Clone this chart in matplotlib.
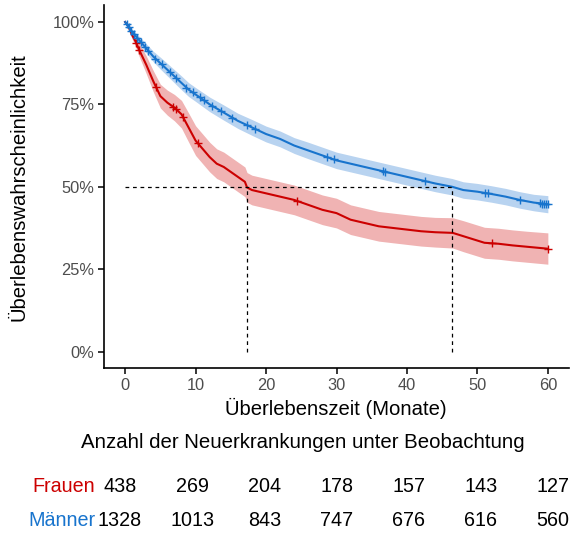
import matplotlib
matplotlib.use("Agg")
import matplotlib.pyplot as plt
from matplotlib.ticker import FuncFormatter

plt.rcParams['font.family'] = ['Liberation Sans', 'DejaVu Sans']

# ---------------- data ----------------
groups = ["Frauen", "Männer"]
colors = ["#CC0000", "#1874CD"]
band_colors = ["#F0B3B3", "#B8D3F0"]

frauen_t = [0, 0.5, 1, 1.5, 2, 3, 4, 5, 6, 7, 8, 9, 10, 11, 12, 13, 14, 15, 16, 17,
            17.3, 18, 20, 22, 24, 26, 28, 30, 32, 34, 36, 38, 40, 42, 44, 46.5, 48,
            49.5, 51, 53, 55, 57, 60]
frauen_s = [1.00, 0.985, 0.96, 0.94, 0.915, 0.87, 0.82, 0.775, 0.755, 0.74, 0.72,
            0.68, 0.64, 0.615, 0.59, 0.57, 0.56, 0.545, 0.53, 0.515, 0.498, 0.49,
            0.48, 0.47, 0.46, 0.445, 0.43, 0.42, 0.40, 0.39, 0.38, 0.375, 0.37,
            0.365, 0.362, 0.36, 0.35, 0.34, 0.33, 0.327, 0.322, 0.318, 0.312]
frauen_lo = [1.00, 0.975, 0.948, 0.924, 0.895, 0.843, 0.788, 0.739, 0.717, 0.700,
             0.678, 0.636, 0.595, 0.570, 0.545, 0.525, 0.515, 0.500, 0.485, 0.470,
             0.453, 0.445, 0.435, 0.425, 0.415, 0.400, 0.385, 0.375, 0.355, 0.345,
             0.335, 0.330, 0.325, 0.320, 0.317, 0.314, 0.303, 0.293, 0.283, 0.280,
             0.275, 0.271, 0.265]
frauen_hi = [1.00, 0.995, 0.972, 0.956, 0.935, 0.897, 0.852, 0.811, 0.793, 0.780,
             0.762, 0.724, 0.685, 0.660, 0.635, 0.615, 0.605, 0.590, 0.575, 0.560,
             0.543, 0.535, 0.525, 0.515, 0.505, 0.490, 0.475, 0.465, 0.445, 0.435,
             0.425, 0.420, 0.415, 0.410, 0.407, 0.406, 0.397, 0.387, 0.377, 0.374,
             0.369, 0.365, 0.360]
frauen_cens = [1.6, 2.0, 4.4, 6.8, 7.2, 8.2, 10.3, 24.4, 52.0, 60.0]

maenner_t = [0, 0.5, 1, 2, 3, 4, 5, 6, 7, 8, 9, 10, 12, 14, 16, 18, 20, 22, 24, 26,
             28, 30, 32, 34, 36, 38, 40, 42, 44, 46.4, 48, 50, 52, 54, 56, 58, 60]
maenner_s = [1.00, 0.985, 0.97, 0.945, 0.92, 0.895, 0.875, 0.855, 0.835, 0.815,
             0.795, 0.78, 0.75, 0.725, 0.70, 0.68, 0.66, 0.645, 0.625, 0.61, 0.595,
             0.58, 0.57, 0.56, 0.55, 0.54, 0.53, 0.52, 0.51, 0.50, 0.49, 0.485,
             0.478, 0.47, 0.46, 0.452, 0.447]
maenner_lo = [1.00, 0.980, 0.962, 0.934, 0.906, 0.879, 0.857, 0.836, 0.815, 0.794,
              0.774, 0.759, 0.728, 0.702, 0.677, 0.656, 0.636, 0.621, 0.601, 0.585,
              0.570, 0.555, 0.545, 0.535, 0.525, 0.515, 0.505, 0.495, 0.485, 0.475,
              0.465, 0.460, 0.453, 0.445, 0.435, 0.427, 0.421]
maenner_hi = [1.00, 0.990, 0.978, 0.956, 0.934, 0.911, 0.893, 0.874, 0.855, 0.836,
              0.816, 0.801, 0.772, 0.748, 0.723, 0.704, 0.684, 0.669, 0.649, 0.635,
              0.620, 0.605, 0.595, 0.585, 0.575, 0.565, 0.555, 0.545, 0.535, 0.525,
              0.515, 0.510, 0.503, 0.495, 0.485, 0.477, 0.473]
maenner_cens = [0.2, 0.5, 0.9, 1.3, 1.7, 2.2, 2.8, 3.3, 4.3, 5.2, 6.4, 7.2, 8.7,
                9.6, 10.6, 11.2, 12.3, 13.6, 15.2, 17.3, 18.5, 28.6, 29.6, 36.6,
                36.9, 42.5, 51.1, 51.5, 56.0, 58.9, 59.2, 59.5, 59.8, 60.0]

medians = [17.3, 46.4]

table_times = [0, 10, 20, 30, 40, 50, 60]
frauen_risk = [438, 269, 204, 178, 157, 143, 127]
maenner_risk = [1328, 1013, 843, 747, 676, 616, 560]

x_ticks = [0, 10, 20, 30, 40, 50, 60]
y_ticks = [0, 0.25, 0.5, 0.75, 1.0]

# ---------------- figure ----------------
W, H = 572, 534
fig = plt.figure(figsize=(W / 100, H / 100), dpi=100)

def px_axes(l, t, r, b):
    return fig.add_axes([l / W, 1 - b / H, (r - l) / W, (b - t) / H])

ax = px_axes(104, 5.5, 569, 368)

def interp(tt, ts, ss):
    for i in range(len(ts) - 1):
        if ts[i] <= tt <= ts[i + 1]:
            f = (tt - ts[i]) / (ts[i + 1] - ts[i])
            return ss[i] + f * (ss[i + 1] - ss[i])
    return ss[-1]

series = [
    (frauen_t, frauen_s, frauen_lo, frauen_hi, frauen_cens),
    (maenner_t, maenner_s, maenner_lo, maenner_hi, maenner_cens),
]
for (ts, ss, lo, hi, cens), c, bc in zip(series, colors, band_colors):
    ax.fill_between(ts, lo, hi, color=bc, linewidth=0, zorder=1)
    ax.plot(ts, ss, color=c, linewidth=1.5, zorder=3, solid_joinstyle="round")
    cy = [interp(t, ts, ss) for t in cens]
    ax.plot(cens, cy, linestyle="none", marker="+", color=c, markersize=6,
            markeredgewidth=1.0, zorder=4)

# median lines
ax.plot([0, max(medians)], [0.5, 0.5], color="black", linestyle=(0, (3, 3)),
        linewidth=0.9, zorder=5)
for m in medians:
    ax.plot([m, m], [0, 0.5], color="black", linestyle=(0, (3, 3)),
            linewidth=0.9, zorder=5)

ax.set_xlim(-3, 63)
ax.set_ylim(-0.05, 1.05)
ax.set_xticks(x_ticks)
ax.set_yticks(y_ticks)
ax.yaxis.set_major_formatter(FuncFormatter(lambda v, p: f"{int(round(v * 100))}%"))
for s in ["top", "right"]:
    ax.spines[s].set_visible(False)
for s in ["left", "bottom"]:
    ax.spines[s].set_linewidth(1.2)
ax.tick_params(axis="both", length=4, width=1.1, labelsize=11.8,
               labelcolor="#4D4D4D", pad=3)

fig.text(336 / W, 1 - 408 / H, "Überlebenszeit (Monate)", ha="center",
         va="center", fontsize=14.6, color="black")
fig.text(19 / W, 1 - 187 / H, "Überlebenswahrscheinlichkeit", ha="center",
         va="center", rotation=90, fontsize=14.6, color="black")

# ---------------- risk table ----------------
tax = px_axes(120, 420, 553, 534)
tax.set_xlim(0, 60)
tax.set_ylim(0, 114)
tax.axis("off")

fig.text(303 / W, 1 - 443 / H, "Anzahl der Neuerkrankungen unter Beobachtung",
         ha="center", va="center", fontsize=14.7, color="black")

rows = [(frauen_risk, 486), (maenner_risk, 520)]
for (vals, ypx), g, c in zip(rows, groups, colors):
    for t, v in zip(table_times, vals):
        tax.text(t, 534 - ypx, str(v), ha="center", va="center", fontsize=14.2,
                 color="black")
    fig.text(95 / W, 1 - ypx / H, g, ha="right", va="center", fontsize=14.2,
             color=c)

fig.savefig("out.png", dpi=100)
